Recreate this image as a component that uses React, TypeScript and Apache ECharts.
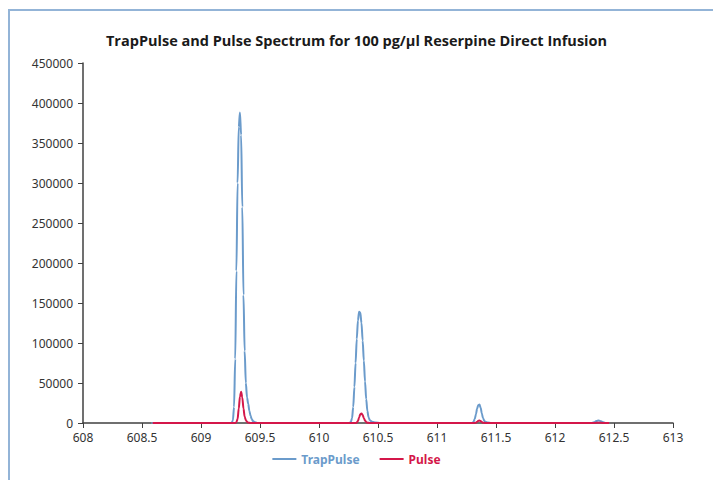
import React, { useEffect, useRef } from "react";
import * as echarts from "echarts";

const titleText = "TrapPulse and Pulse Spectrum for 100 pg/µl Reserpine Direct Infusion";
const seriesNames = ["TrapPulse", "Pulse"];

const trapPulseMz = [
  608.58, 609.25, 609.26, 609.27, 609.28, 609.29, 609.3, 609.31, 609.32, 609.33, 609.34, 609.35, 609.36,
  609.37, 609.38, 609.39, 609.4, 609.41, 609.42, 609.43, 609.44, 609.46, 609.48,
  610.26, 610.27, 610.28, 610.29, 610.3, 610.31, 610.32, 610.33, 610.34, 610.35, 610.36, 610.37, 610.38,
  610.39, 610.4, 610.41, 610.42, 610.43, 610.45, 610.48, 610.52,
  611.29, 611.3, 611.31, 611.32, 611.33, 611.34, 611.35, 611.36, 611.37, 611.38, 611.39, 611.4, 611.41,
  611.43, 611.46,
  612.31, 612.33, 612.35, 612.37, 612.39, 612.41, 612.43, 612.46,
];
const trapPulseIntensity = [
  0, 0, 500, 3000, 20000, 80000, 190000, 300000, 370000, 388000, 360000, 270000, 160000,
  90000, 50000, 32000, 24000, 15000, 9000, 5000, 2500, 800, 0,
  0, 1500, 6000, 20000, 45000, 75000, 105000, 128000, 139000, 138000, 125000, 103000, 78000,
  52000, 30000, 15000, 7000, 3500, 1500, 500, 0,
  0, 300, 1500, 5000, 11000, 18000, 22500, 23000, 19000, 12000, 6000, 3000, 1500,
  600, 0,
  0, 800, 2500, 3000, 2200, 800, 0, 0,
];

const pulseMz = [
  608.59, 609.29, 609.3, 609.31, 609.32, 609.33, 609.34, 609.35, 609.36, 609.37, 609.38, 609.39, 609.4,
  609.42,
  610.31, 610.32, 610.33, 610.34, 610.35, 610.36, 610.37, 610.38, 610.39, 610.4, 610.41, 610.43,
  611.32, 611.33, 611.34, 611.35, 611.36, 611.37, 611.38, 611.39, 611.41,
  612.33, 612.35, 612.37, 612.39, 612.41, 612.46,
];
const pulseIntensity = [
  0, 0, 1000, 5000, 18000, 33000, 39000, 32000, 18000, 8000, 3500, 1500, 500,
  0,
  0, 500, 2500, 7000, 11000, 12000, 10000, 6000, 3000, 1200, 400, 0,
  0, 500, 1500, 2700, 3000, 2400, 1200, 400, 0,
  0, 200, 400, 200, 0, 0,
];

const xMin = 608;
const xMax = 613;
const xInterval = 0.5;
const yMin = 0;
const yMax = 450000;
const yInterval = 50000;

const colors = ["#6b9bcb", "#d4174a"];

export default function App() {
  const ref = useRef<HTMLDivElement>(null);
  useEffect(() => {
    if (!ref.current) return;
    const chart = echarts.init(ref.current, null, { renderer: "svg" });
    const font = "'Noto Sans', 'Open Sans', sans-serif";
    const tp = trapPulseMz.map((m, i) => [m, trapPulseIntensity[i]]);
    const p = pulseMz.map((m, i) => [m, pulseIntensity[i]]);
    chart.setOption({
      animation: false,
      color: colors,
      title: {
        text: titleText,
        left: "center",
        top: 28,
        textStyle: { fontFamily: "'Open Sans', sans-serif", fontSize: 14.5, fontWeight: "bold", color: "#1a1a1a" },
      },
      legend: {
        bottom: 10,
        left: "center",
        itemWidth: 24,
        itemHeight: 2,
        itemGap: 20,
        icon: "rect",
        data: [
          { name: seriesNames[0], textStyle: { color: colors[0] } },
          { name: seriesNames[1], textStyle: { color: colors[1] } },
        ],
        textStyle: { fontFamily: font, fontSize: 12, fontWeight: "bold" },
      },
      graphic: [
        {
          type: "rect",
          shape: { x: 9, y: 10, width: 900, height: 700 },
          style: { fill: "none", stroke: "#93b4d7", lineWidth: 2 },
          silent: true,
        },
      ],
      grid: { left: 83, right: 40, top: 63, bottom: 57, containLabel: false },
      xAxis: {
        type: "value",
        min: xMin,
        max: xMax,
        interval: xInterval,
        axisLine: { onZero: false, lineStyle: { color: "#404040", width: 1.5 } },
        axisTick: { show: true, inside: false, length: 5, lineStyle: { color: "#404040" } },
        axisLabel: { color: "#333", fontFamily: font, fontSize: 12, margin: 8 },
        splitLine: { show: false },
      },
      yAxis: {
        type: "value",
        min: yMin,
        max: yMax,
        interval: yInterval,
        axisLine: { show: true, lineStyle: { color: "#404040", width: 1.5 } },
        axisTick: { show: true, inside: false, length: 5, lineStyle: { color: "#404040" } },
        axisLabel: {
          color: "#333",
          fontFamily: font,
          fontSize: 12,
          margin: 10,
          formatter: (v: number) => String(v),
        },
        splitLine: { show: false },
      },
      series: [
        {
          name: seriesNames[0],
          type: "line",
          data: tp,
          showSymbol: false,
          smooth: 0.3,
          smoothMonotone: "x",
          lineStyle: { width: 2, color: colors[0] },
        },
        {
          name: seriesNames[1],
          type: "line",
          data: p,
          showSymbol: false,
          smooth: 0.3,
          smoothMonotone: "x",
          lineStyle: { width: 2, color: colors[1] },
        },
      ],
    });
    return () => chart.dispose();
  }, []);
  return (
    <div
      ref={ref}
      style={{ position: "fixed", left: 0, top: 0, width: 713, height: 480, background: "#fff" }}
    />
  );
}
